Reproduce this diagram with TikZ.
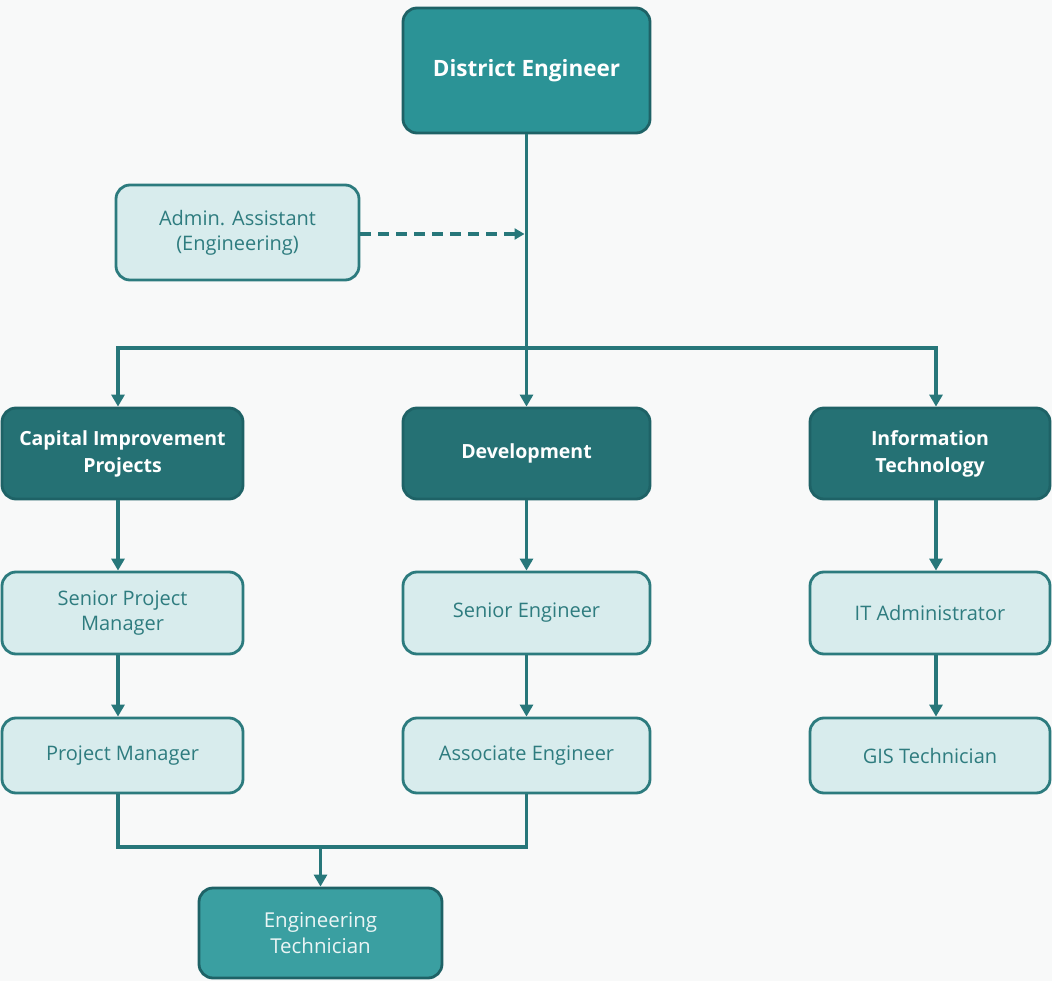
\documentclass[tikz,border=0pt]{standalone}
\usepackage{fontspec}
\setmainfont{Open Sans}
\usetikzlibrary{arrows.meta,calc}
\definecolor{bgc}{HTML}{F8F9F9}
\definecolor{topfill}{HTML}{2B9396}
\definecolor{deptfill}{HTML}{257174}
\definecolor{darkline}{HTML}{1E6266}
\definecolor{lightfill}{HTML}{D8ECED}
\definecolor{lightline}{HTML}{2C7B7E}
\definecolor{lighttext}{HTML}{2E7C7F}
\definecolor{techfill}{HTML}{3A9FA1}
\definecolor{conn}{HTML}{27777A}
\tikzset{
  box/.style={rounded corners=14pt, line width=2.8pt, inner sep=0pt, align=center, font=\fontsize{20}{25}\selectfont},
  topbox/.style={box, fill=topfill, draw=darkline, text=white, font=\fontsize{22.5}{27}\selectfont\bfseries},
  deptbox/.style={box, fill=deptfill, draw=darkline, text=white, font=\fontsize{19.5}{27}\selectfont\bfseries},
  rolebox/.style={box, fill=lightfill, draw=lightline, text=lighttext},
  techbox/.style={box, fill=techfill, draw=darkline, text=white!92!teal, font=\fontsize{20.5}{26}\selectfont},
  conn/.style={draw=conn, line width=3.2pt},
  arr/.style={conn, -{Triangle[length=12pt,width=13pt]}},
}
\begin{document}
\begin{tikzpicture}[x=1pt,y=-1pt]
  \fill[bgc] (0,0) rectangle (1052,981);
  \useasboundingbox (0,0) rectangle (1052,981);

  % top of the hierarchy
  \node[topbox, minimum width=247pt, minimum height=125pt] (de) at (526.5,70.5) {District Engineer};
  \node[rolebox, minimum width=243pt, minimum height=95pt] (admin) at (237.5,232.5) {Admin. Assistant\\(Engineering)};

  % departments
  \node[deptbox, minimum width=241pt, minimum height=91pt] (cip) at (122.5,453.5) {Capital Improvement\\Projects};
  \node[deptbox, minimum width=247pt, minimum height=91pt] (dev) at (526.5,453.5) {Development};
  \node[deptbox, minimum width=240pt, minimum height=91pt] (it) at (930,453.5) {Information\\Technology};

  % second level roles
  \node[rolebox, minimum width=241pt, minimum height=82pt] (spm) at (122.5,613) {Senior Project\\Manager};
  \node[rolebox, minimum width=247pt, minimum height=82pt] (se) at (526.5,613) {Senior Engineer};
  \node[rolebox, minimum width=240pt, minimum height=82pt] (ita) at (930,613) {IT Administrator};

  % third level roles
  \node[rolebox, minimum width=241pt, minimum height=75pt] (pm) at (122.5,755.5) {Project Manager};
  \node[rolebox, minimum width=247pt, minimum height=75pt] (ae) at (526.5,755.5) {Associate Engineer};
  \node[rolebox, minimum width=240pt, minimum height=75pt] (gis) at (930,755.5) {GIS Technician};

  % shared technician
  \node[techbox, minimum width=243pt, minimum height=90pt] (et) at (320.5,933) {Engineering\\Technician};

  % connector columns of the outer branches
  \coordinate (colL) at (118,0);
  \coordinate (colR) at (936,0);

  % main trunk and bus
  \coordinate (bus) at (526.5,348);
  \coordinate (join) at (526.5,234);
  \draw[arr] (de.south) -- (dev.north);
  \draw[arr] (bus) -| (colL |- cip.north);
  \draw[arr] (bus) -| (colR |- it.north);
  \draw[conn, dashed, dash pattern=on 11pt off 7pt, -{Triangle[length=10pt,width=11pt]}] (admin.east |- join) -- ($(join)+(-2,0)$);

  % column chains
  \draw[arr] (colL |- cip.south) -- (colL |- spm.north);
  \draw[arr] (colL |- spm.south) -- (colL |- pm.north);
  \draw[arr] (dev.south) -- (se.north);
  \draw[arr] (se.south) -- (ae.north);
  \draw[arr] (colR |- it.south) -- (colR |- ita.north);
  \draw[arr] (colR |- ita.south) -- (colR |- gis.north);

  % merge into the technician
  \coordinate (mid) at (et.north |- 0,847);
  \draw[conn] (colL |- pm.south) |- (mid) -| (ae.south);
  \draw[arr] (mid) -- (et.north);
\end{tikzpicture}
\end{document}
